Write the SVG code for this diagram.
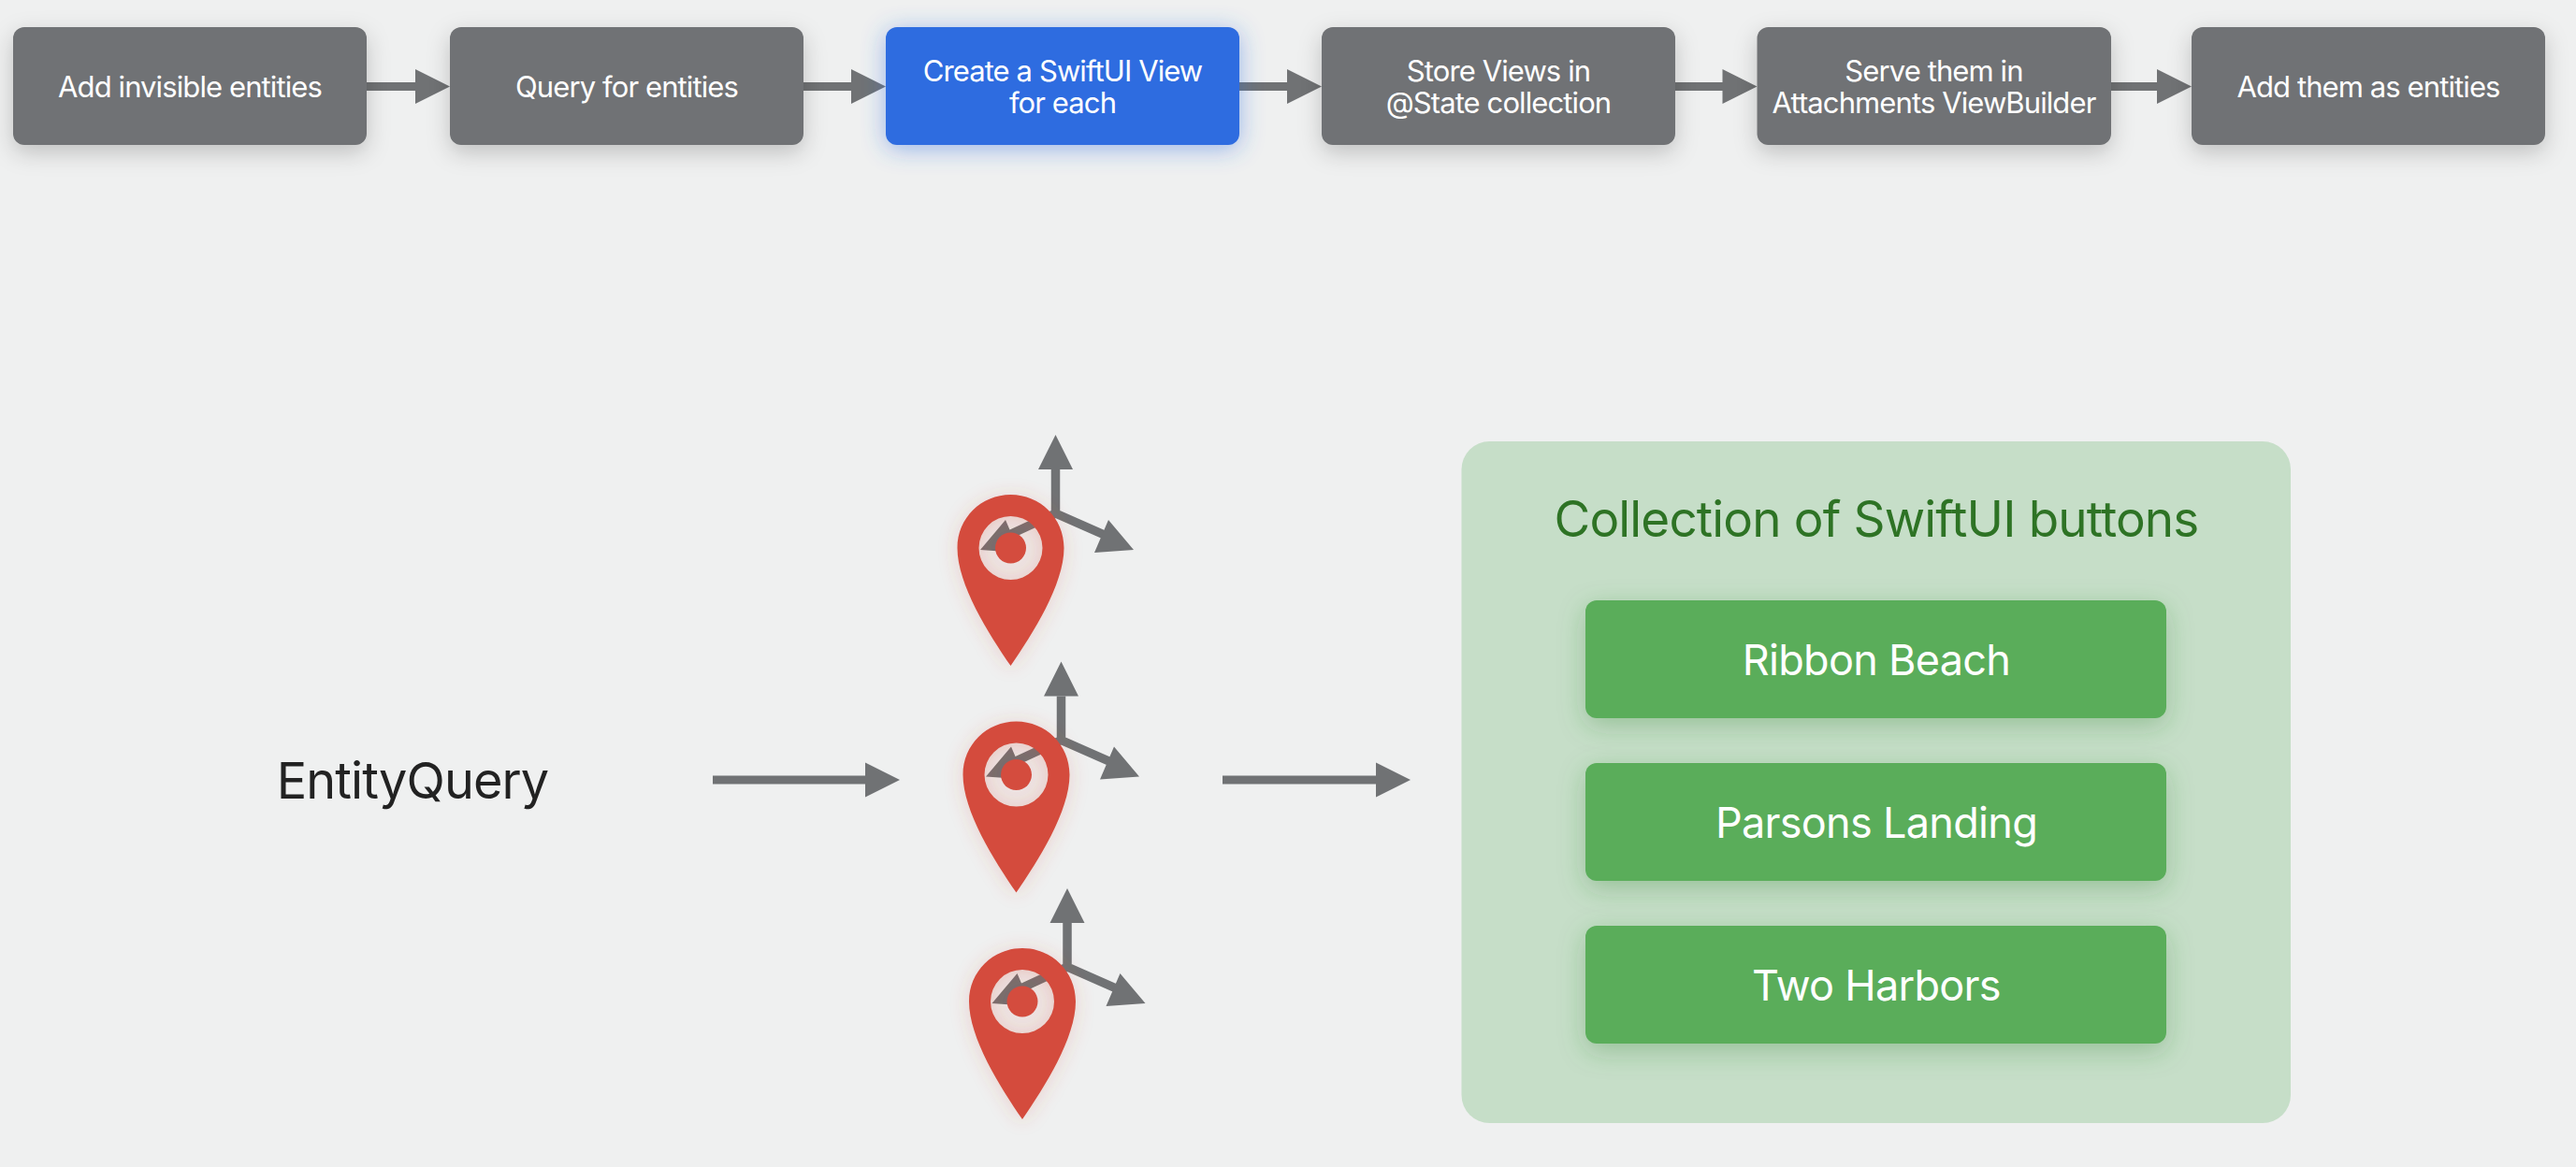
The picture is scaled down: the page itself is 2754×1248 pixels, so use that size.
<svg xmlns="http://www.w3.org/2000/svg" width="2754" height="1248" viewBox="0 0 2754 1248">
<defs>
<filter id="sg" x="-20%" y="-50%" width="140%" height="220%"><feDropShadow dx="0" dy="8" stdDeviation="12" flood-color="#000" flood-opacity=".2"/></filter>
<filter id="sb" x="-20%" y="-50%" width="140%" height="220%"><feDropShadow dx="0" dy="4" stdDeviation="13" flood-color="#2f6ce0" flood-opacity=".45"/></filter>
<filter id="sgr" x="-20%" y="-50%" width="140%" height="220%"><feDropShadow dx="0" dy="8" stdDeviation="14" flood-color="#2e7d32" flood-opacity=".3"/></filter>
<filter id="sr" x="-40%" y="-40%" width="180%" height="180%"><feDropShadow dx="0" dy="2" stdDeviation="10" flood-color="#d44c3e" flood-opacity=".2"/></filter>
<g id="pinaxes">
<path d="M1128.5 502V549L1192 577M1128.5 549L1068 577" fill="none" stroke="#707274" stroke-width="9.5"/>
<path d="M1128.5 465L1147 502H1110ZM1212 588L1170 591L1185 556ZM1048 588L1075 556L1090 591Z" fill="#707274"/>
</g>
<g id="pin">
<circle cx="1080.5" cy="586" r="35" fill="#d44c3e" fill-opacity=".07"/>
<path filter="url(#sr)" fill-rule="evenodd" d="M1080.5 529C1112 529 1137.5 554 1137.5 586C1137.5 625 1104 678 1080.5 712C1057 678 1023.5 625 1023.5 586C1023.5 554 1049 529 1080.5 529ZM1080.5 552A34 34 0 1 0 1080.5 620A34 34 0 1 0 1080.5 552Z" fill="#d44c3e"/>
<circle cx="1080.5" cy="586" r="16.5" fill="#d44c3e"/>
</g>
</defs>
<style>
text{font-family:Inter,"Liberation Sans",sans-serif;text-anchor:middle}
.b{fill:#707274;filter:url(#sg)}
.t{fill:#fff;font-size:31px;letter-spacing:-.9px}
.g{fill:#5aad5a;filter:url(#sgr)}
.gt{fill:#fff;font-size:45px;letter-spacing:-.7px}
.a{fill:#707274}
</style>
<rect width="2754" height="1248" fill="#eff0f0"/>
<g id="connectors">
<path class="a" d="M392 88H444V74L481 92.5L444 111V97H392Z"/>
<path class="a" d="M859 88H910V74L947 92.5L910 111V97H859Z"/>
<path class="a" d="M1325 88H1376V74L1413 92.5L1376 111V97H1325Z"/>
<path class="a" d="M1791 88H1841.5V74L1878.5 92.5L1841.5 111V97H1791Z"/>
<path class="a" d="M2257 88H2306V74L2343 92.5L2306 111V97H2257Z"/>
<path class="a" d="M762 829.5H925V815.5L962 834L925 852.5V838.5H762Z"/>
<path class="a" d="M1307 829.5H1471V815.5L1508 834L1471 852.5V838.5H1307Z"/>
</g>
<g id="n1"><rect class="b" x="14" y="29" width="378" height="126" rx="12"/><text class="t" x="203" y="104">Add invisible entities</text></g>
<g id="n2"><rect class="b" x="481" y="29" width="378" height="126" rx="12"/><text class="t" x="670" y="104">Query for entities</text></g>
<g id="n3"><rect x="947" y="29" width="378" height="126" rx="12" fill="#2f6ce0" filter="url(#sb)"/><text class="t" x="1136" y="87">Create a SwiftUI View</text><text class="t" x="1136" y="121">for each</text></g>
<g id="n4"><rect class="b" x="1413" y="29" width="378" height="126" rx="12"/><text class="t" x="1602" y="87">Store Views in</text><text class="t" x="1602" y="121">@State collection</text></g>
<g id="n5"><rect class="b" x="1878.5" y="29" width="378.5" height="126" rx="12"/><text class="t" x="2067.5" y="87">Serve them in</text><text class="t" x="2067.5" y="121">Attachments ViewBuilder</text></g>
<g id="n6"><rect class="b" x="2343" y="29" width="378" height="126" rx="12"/><text class="t" x="2532" y="104">Add them as entities</text></g>
<g id="entityquery"><text x="441" y="854" font-size="54" letter-spacing="-.9" fill="#222">EntityQuery</text></g>
<g id="pin1"><use href="#pinaxes"/><use href="#pin"/></g>
<g id="pin2"><use href="#pinaxes" x="6" y="242.5"/><use href="#pin" x="6" y="242.5"/></g>
<g id="pin3"><use href="#pinaxes" x="12.5" y="485"/><use href="#pin" x="12.5" y="485"/></g>
<g id="panel"><rect x="1562.5" y="472" width="886.5" height="729" rx="30" fill="#c6dec8"/><text x="2006" y="574" font-size="53" letter-spacing="-.85" fill="#2e7325">Collection of SwiftUI buttons</text></g>
<g id="btn1"><rect class="g" x="1695" y="642" width="621" height="126" rx="12"/><text class="gt" x="2006" y="722">Ribbon Beach</text></g>
<g id="btn2"><rect class="g" x="1695" y="816" width="621" height="126" rx="12"/><text class="gt" x="2006" y="896">Parsons Landing</text></g>
<g id="btn3"><rect class="g" x="1695" y="990" width="621" height="126" rx="12"/><text class="gt" x="2006" y="1070">Two Harbors</text></g>
</svg>
